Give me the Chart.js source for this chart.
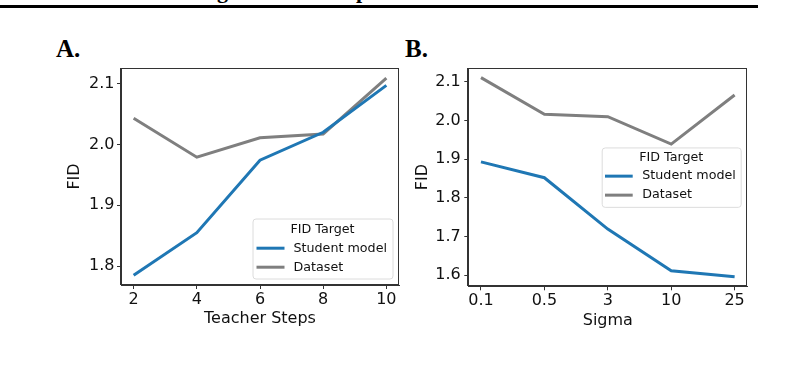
<!DOCTYPE html>
<html><head><meta charset="utf-8">
<script src="https://cdn.jsdelivr.net/npm/chart.js@4.4.0/dist/chart.umd.min.js"></script>
<style>
html,body{margin:0;padding:0;background:#fff;width:806px;height:365px;overflow:hidden;}
#wrap{position:relative;width:806px;height:365px;overflow:hidden;}
canvas{position:absolute;top:0;}
.rule{position:absolute;left:0;top:5px;width:758px;height:3px;background:#000;}
.panel{position:absolute;font-family:"Liberation Serif","Times New Roman",serif;font-weight:bold;font-size:25px;line-height:25px;color:#000;margin:0;}
.cut{position:absolute;font-family:"Liberation Serif","Times New Roman",serif;font-weight:bold;font-size:22px;line-height:22px;color:#000;top:-20px;}
</style></head>
<body><div id="wrap">
<span class="cut" style="left:217px">g</span>
<span class="cut" style="left:356px">p</span>
<div class="rule"></div>
<div class="panel" style="left:56px;top:36px">A.</div>
<div class="panel" style="left:405px;top:36px">B.</div>
<canvas id="cA" width="403" height="365" style="left:0"></canvas>
<canvas id="cB" width="403" height="365" style="left:403px"></canvas>
</div>
<script>
// ---- data ----
const teacherSteps = [2, 4, 6, 8, 10];
const studentA = [1.785, 1.855, 1.974, 2.020, 2.097];
const datasetA = [2.043, 1.979, 2.011, 2.017, 2.109];
const yTicksA = [1.8, 1.9, 2.0, 2.1];

const sigmaLabels = ['0.1', '0.5', '3', '10', '25'];
const studentB = [1.893, 1.852, 1.719, 1.611, 1.596];
const datasetB = [2.111, 2.016, 2.010, 1.939, 2.066];
const yTicksB = [1.6, 1.7, 1.8, 1.9, 2.0, 2.1];

const seriesNames = ['Student model', 'Dataset'];
const legendTitle = 'FID Target';

// ---- styles ----
const BLUE = '#1f77b4', GRAY = '#7f7f7f', AXIS = '#333333', TEXT = '#111111';
const FONT = '"DejaVu Sans", sans-serif';

const framePlugin = {
  id: 'frame',
  afterDatasetsDraw(chart) {
    const {ctx, chartArea: a} = chart;
    ctx.save();
    ctx.strokeStyle = AXIS; ctx.lineWidth = 1;
    const l = Math.round(a.left) - 0.5, t = Math.round(a.top) + 0.5;
    const r = Math.round(a.right) - 0.5, b = Math.round(a.bottom) - 0.5;
    ctx.strokeRect(l, t, r - l, b - t);
    ctx.restore();
  }
};

const boxLegend = {
  id: 'boxLegend',
  afterDraw(chart, args, o) {
    const {ctx, chartArea: ca} = chart;
    const w = o.width, h = o.height;
    const x = ca.right - o.inset - w;
    const y = o.anchor === 'lower right' ? ca.bottom - o.inset - h : (ca.top + ca.bottom) / 2 - h / 2;
    ctx.save();
    ctx.beginPath();
    if (ctx.roundRect) ctx.roundRect(x + 0.5, y + 0.5, w, h, 3); else ctx.rect(x + 0.5, y + 0.5, w, h);
    ctx.fillStyle = 'rgba(255,255,255,0.85)';
    ctx.fill();
    ctx.strokeStyle = '#dcdcdc'; ctx.lineWidth = 1; ctx.stroke();
    ctx.font = '12.7px ' + FONT;
    ctx.fillStyle = TEXT;
    ctx.textBaseline = 'middle';
    ctx.textAlign = 'center';
    ctx.fillText(o.title, x + w / 2, y + o.titleY);
    ctx.textAlign = 'left';
    chart.data.datasets.forEach((ds, i) => {
      const ry = y + o.rowY[i];
      ctx.beginPath();
      ctx.moveTo(x + o.h0, ry); ctx.lineTo(x + o.h1, ry);
      ctx.strokeStyle = ds.borderColor; ctx.lineWidth = ds.borderWidth; ctx.stroke();
      ctx.fillStyle = TEXT;
      ctx.fillText(ds.label, x + o.textX, ry);
    });
    ctx.restore();
  }
};

function makeChart(id, cfg) {
  const W = 403, H = 365;
  const ds = (data, i, color) => ({
    label: seriesNames[i], data, borderColor: color, backgroundColor: color,
    borderWidth: 3, pointRadius: 0, tension: 0, fill: false
  });
  return new Chart(document.getElementById(id), {
    type: 'line',
    data: {
      datasets: [
        ds(cfg.xs.map((x, k) => ({x, y: cfg.student[k]})), 0, BLUE),
        ds(cfg.xs.map((x, k) => ({x, y: cfg.dataset[k]})), 1, GRAY)
      ]
    },
    plugins: [framePlugin, boxLegend],
    options: {
      responsive: false, animation: false, devicePixelRatio: 1,
      layout: {padding: {left: 0, top: cfg.area.top, right: W - cfg.area.right, bottom: 0}},
      plugins: {
        legend: {display: false}, tooltip: {enabled: false},
        boxLegend: Object.assign({title: legendTitle}, cfg.legend)
      },
      scales: {
        x: {
          type: 'linear', min: cfg.xmin, max: cfg.xmax,
          afterBuildTicks: s => { s.ticks = cfg.xs.map(v => ({value: v})); },
          afterFit: s => { s.height = H - cfg.area.bottom; },
          ticks: {font: {family: FONT, size: 16}, color: TEXT, padding: cfg.xTickPad, maxRotation: 0,
                  callback: cfg.xLabel},
          grid: {display: true, drawOnChartArea: false, drawTicks: true, tickLength: 4, color: AXIS, tickWidth: 1},
          border: {display: true, color: AXIS, width: 1},
          title: {display: true, text: cfg.xTitle, font: {family: FONT, size: 16}, color: TEXT,
                  padding: {top: 0, bottom: cfg.xTitlePad}}
        },
        y: {
          type: 'linear', min: cfg.ymin, max: cfg.ymax,
          afterBuildTicks: s => { s.ticks = cfg.yTicks.map(v => ({value: v})); },
          afterFit: s => { s.width = cfg.area.left; },
          ticks: {font: {family: FONT, size: 16}, color: TEXT, padding: cfg.yTickPad,
                  callback: v => Number(v).toFixed(1)},
          grid: {display: true, drawOnChartArea: false, drawTicks: true, tickLength: 4, color: AXIS, tickWidth: 1},
          border: {display: true, color: AXIS, width: 1},
          title: {display: true, text: 'FID', font: {family: FONT, size: 16}, color: TEXT,
                  padding: {top: cfg.yTitlePad, bottom: 0}}
        }
      }
    }
  });
}

makeChart('cA', {
  xs: teacherSteps, student: studentA, dataset: datasetA, yTicks: yTicksA,
  xmin: 1.6, xmax: 10.4, ymin: 1.769, ymax: 2.1256,
  xLabel: v => String(v), xTitle: 'Teacher Steps',
  area: {left: 121, top: 68, right: 399, bottom: 285},
  xTickPad: 1, yTickPad: 2.5, xTitlePad: 36.6, yTitlePad: 64.9,
  legend: {anchor: 'lower right', width: 140, height: 60, inset: 6.5, titleY: 11, rowY: [29.7, 48.7], h0: 4, h1: 32, textX: 41}
});

makeChart('cB', {
  xs: [0, 1, 2, 3, 4], student: studentB, dataset: datasetB, yTicks: yTicksB,
  xmin: -0.2, xmax: 4.2, ymin: 1.571, ymax: 2.136,
  xLabel: v => sigmaLabels[Math.round(v)], xTitle: 'Sigma',
  area: {left: 65.3, top: 68, right: 344.3, bottom: 286.3},
  xTickPad: 0.5, yTickPad: 3.6, xTitlePad: 34.9, yTitlePad: 9.9,
  legend: {anchor: 'center right', width: 139, height: 59.4, inset: 6.6, titleY: 10.4, rowY: [28.7, 47.7], h0: 3.3, h1: 31, textX: 40.6}
});
</script>
</body></html>
